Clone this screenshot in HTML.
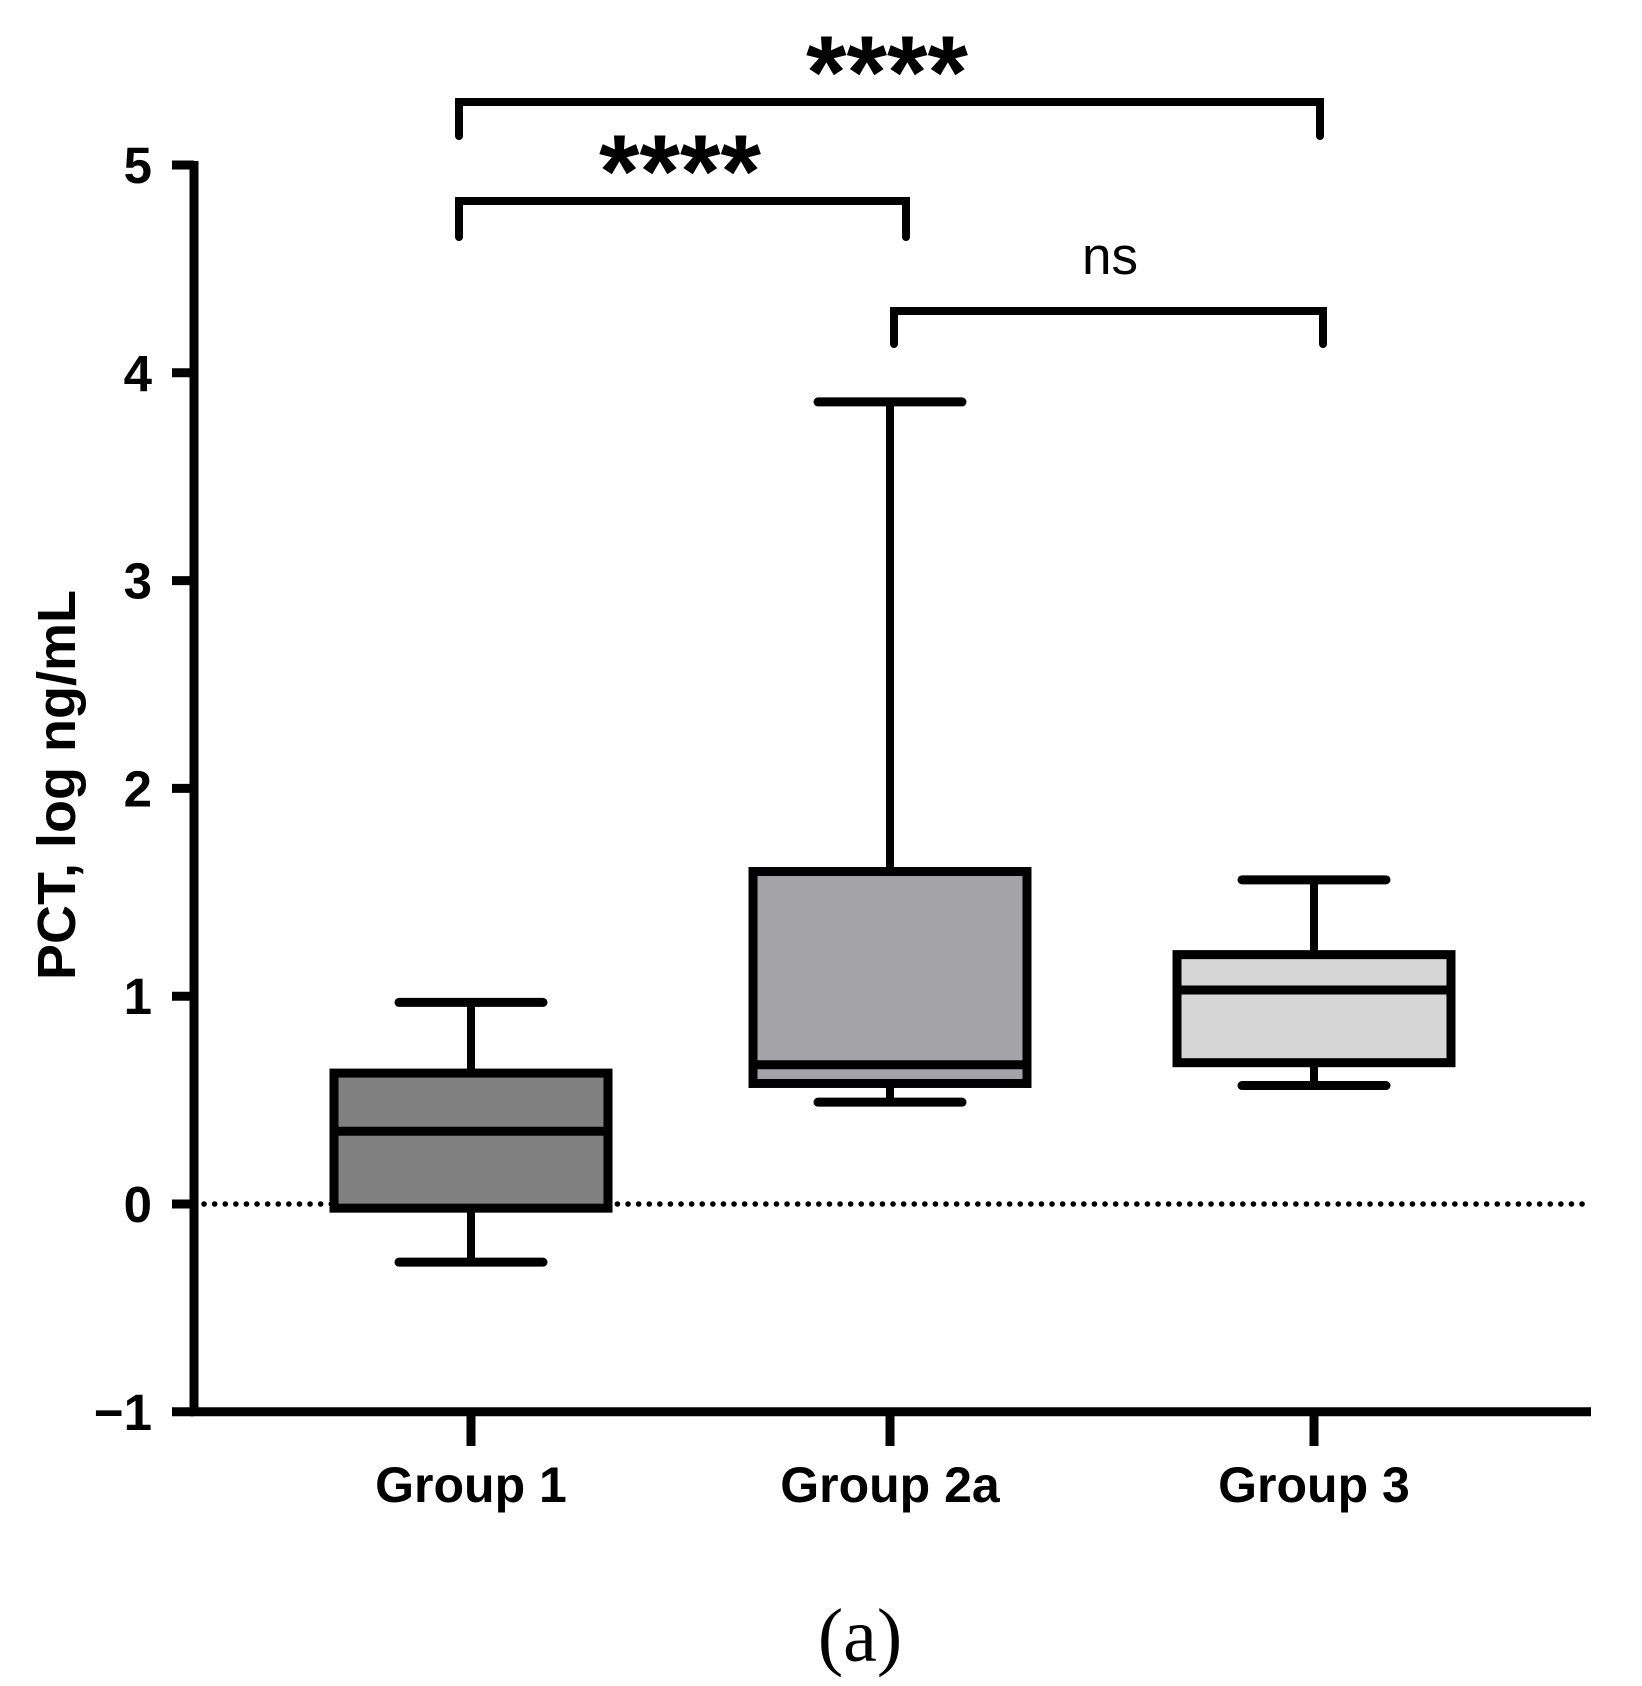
<!DOCTYPE html>
<html><head><meta charset="utf-8"><style>
html,body{margin:0;padding:0;background:#fff;}
svg{display:block;}
text{font-family:"Liberation Sans",Arial,sans-serif;}
</style></head><body>
<svg id="chart" width="1642" height="1686" viewBox="0 0 1642 1686" xmlns="http://www.w3.org/2000/svg">
<g id="plot"></g>
</svg>
<script>
const categories = ["Group 1", "Group 2a", "Group 3"];
const whiskerLow = [-0.28, 0.49, 0.57];
const q1Values = [-0.02, 0.58, 0.68];
const medianValues = [0.35, 0.67, 1.03];
const q3Values = [0.63, 1.60, 1.20];
const whiskerHigh = [0.97, 3.86, 1.56];
const fills = ["#808080", "#a4a3a8", "#d6d6d6"];
const yTicks = [-1, 0, 1, 2, 3, 4, 5];
const yTickLabels = ["\u22121", "0", "1", "2", "3", "4", "5"];

const NS = "http://www.w3.org/2000/svg";
const g = document.getElementById("plot");
const Y0 = 1204, UNIT = 207.8;
function y(v){ return Y0 - v * UNIT; }
const xCenters = [471, 890, 1314];
function x(i){ return xCenters[i]; }
const BOX_HALF = 137, CAP_HALF = 72;

function el(tag, attrs, parent){
  const e = document.createElementNS(NS, tag);
  for (const k in attrs) e.setAttribute(k, attrs[k]);
  (parent || g).appendChild(e);
  return e;
}

const zl = el("line", {x1: 204, x2: 1591, y1: y(0), y2: y(0), stroke: "#000", "stroke-width": 5.5, "stroke-dasharray": "0.1 10.5", "stroke-linecap": "round"});



const ya = el("line", {x1: 194, x2: 194, y1: y(5) - 4, y2: y(-1) + 4, stroke: "#000", "stroke-width": 9});


const xa = el("line", {x1: 190, x2: 1591, y1: y(-1), y2: y(-1), stroke: "#000", "stroke-width": 9});



yTicks.forEach((t, i) => {
  const tk = el("line", {x1: 172, x2: 194, y1: y(t), y2: y(t), stroke: "#000", "stroke-width": 9});
  
  
  const lb = el("text", {x: 152, y: y(t) + 18, "text-anchor": "end", "font-size": 51, "font-weight": "bold", fill: "#000"});
  lb.textContent = yTickLabels[i];
  
  
});

categories.forEach((c, i) => {
  const tk = el("line", {x1: x(i), x2: x(i), y1: y(-1), y2: 1446, stroke: "#000", "stroke-width": 9});
  
  
  const lb = el("text", {x: x(i), y: 1502, "text-anchor": "middle", "font-size": 50, "font-weight": "bold", fill: "#000"});
  lb.textContent = c;
  
  

  const wl = el("line", {x1: x(i), x2: x(i), y1: y(whiskerLow[i]), y2: y(whiskerHigh[i]), stroke: "#000", "stroke-width": 8});
  
  
  [whiskerLow[i], whiskerHigh[i]].forEach(v => {
    const cap = el("line", {x1: x(i) - CAP_HALF, x2: x(i) + CAP_HALF, y1: y(v), y2: y(v), stroke: "#000", "stroke-width": 9, "stroke-linecap": "round"});
    
    
  });
  const bx = el("rect", {x: x(i) - BOX_HALF, y: y(q3Values[i]), width: BOX_HALF * 2, height: y(q1Values[i]) - y(q3Values[i]), fill: fills[i], stroke: "#000", "stroke-width": 9});
  
  
  const md = el("line", {x1: x(i) - BOX_HALF, x2: x(i) + BOX_HALF, y1: y(medianValues[i]), y2: y(medianValues[i]), stroke: "#000", "stroke-width": 9});
  
  
});

const yt = el("text", {x: 0, y: 0, transform: "translate(75,785) rotate(-90)", "text-anchor": "middle", "font-size": 54, "font-weight": "bold", fill: "#000"});
yt.textContent = "PCT, log ng/mL";



function bracket(x1, x2, yTop, yBot, label, lx, ly, bold, size, name){
  const p = el("path", {d: `M${x1},${yBot} L${x1},${yTop} L${x2},${yTop} L${x2},${yBot}`, fill: "none", stroke: "#000", "stroke-width": 8, "stroke-linecap": "round"});
  
  
  const t = el("text", {x: lx, y: ly, "text-anchor": "middle", "font-size": size, "font-weight": bold ? "bold" : "normal", fill: "#000"});
  t.textContent = label;
  
  
}
bracket(459, 1320, 102, 136, "****", 887, 108, true, 104, "bracket-group1-group3");
bracket(459, 906, 201, 237, "****", 680, 207, true, 104, "bracket-group1-group2a");
bracket(894, 1323, 311, 344, "ns", 1110, 274, false, 53, "bracket-group2a-group3");

const pl = el("text", {x: 860, y: 1661, "text-anchor": "middle", "font-size": 76, fill: "#000", style: 'font-family:"Liberation Serif",serif'});
pl.textContent = "(a)";


</script>
</body></html>
